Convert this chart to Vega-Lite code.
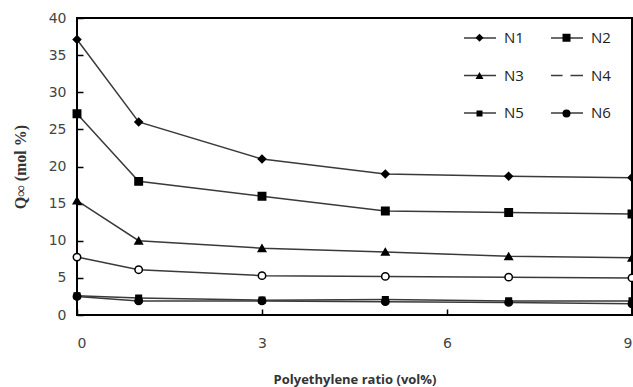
{
  "$schema": "https://vega.github.io/schema/vega-lite/v6.json",
  "width": 555,
  "height": 297,
  "autosize": {"type": "none"},
  "padding": {"left": 77, "top": 18, "right": 1, "bottom": 72},
  "config": {
    "view": {"stroke": "black", "strokeWidth": 2},
    "font": "DejaVu Sans"
  },
  "data": {
    "values": [
      {"series": "N1", "ratio": 0, "q": 37.1},
      {"series": "N1", "ratio": 1, "q": 26.0},
      {"series": "N1", "ratio": 3, "q": 21.0},
      {"series": "N1", "ratio": 5, "q": 19.0},
      {"series": "N1", "ratio": 7, "q": 18.7},
      {"series": "N1", "ratio": 9, "q": 18.5},
      {"series": "N2", "ratio": 0, "q": 27.1},
      {"series": "N2", "ratio": 1, "q": 18.0},
      {"series": "N2", "ratio": 3, "q": 16.0},
      {"series": "N2", "ratio": 5, "q": 14.0},
      {"series": "N2", "ratio": 7, "q": 13.8},
      {"series": "N2", "ratio": 9, "q": 13.6},
      {"series": "N3", "ratio": 0, "q": 15.4},
      {"series": "N3", "ratio": 1, "q": 10.0},
      {"series": "N3", "ratio": 3, "q": 9.0},
      {"series": "N3", "ratio": 5, "q": 8.5},
      {"series": "N3", "ratio": 7, "q": 7.9},
      {"series": "N3", "ratio": 9, "q": 7.7},
      {"series": "N4", "ratio": 0, "q": 7.8},
      {"series": "N4", "ratio": 1, "q": 6.1},
      {"series": "N4", "ratio": 3, "q": 5.3},
      {"series": "N4", "ratio": 5, "q": 5.2},
      {"series": "N4", "ratio": 7, "q": 5.1},
      {"series": "N4", "ratio": 9, "q": 5.0},
      {"series": "N5", "ratio": 0, "q": 2.6},
      {"series": "N5", "ratio": 1, "q": 2.3},
      {"series": "N5", "ratio": 3, "q": 2.0},
      {"series": "N5", "ratio": 5, "q": 2.1},
      {"series": "N5", "ratio": 7, "q": 1.9},
      {"series": "N5", "ratio": 9, "q": 1.9},
      {"series": "N6", "ratio": 0, "q": 2.5},
      {"series": "N6", "ratio": 1, "q": 1.9},
      {"series": "N6", "ratio": 3, "q": 1.9},
      {"series": "N6", "ratio": 5, "q": 1.8},
      {"series": "N6", "ratio": 7, "q": 1.7},
      {"series": "N6", "ratio": 9, "q": 1.5}
    ]
  },
  "encoding": {
    "x": {
      "field": "ratio", "type": "quantitative",
      "scale": {"domain": [0, 9], "nice": false},
      "axis": {
        "values": [0, 3, 6, 9], "domain": false, "grid": false,
        "tickSize": -6, "tickWidth": 1.5, "tickColor": "black",
        "labelPadding": 27, "labelFont": "DejaVu Sans", "labelFontSize": 14, "labelColor": "#444",
        "title": "Polyethylene ratio (vol%)", "titleFont": "Open Sans", "titleFontSize": 13,
        "titleFontWeight": "bold", "titleColor": "#333", "titlePadding": 23
      }
    },
    "y": {
      "field": "q", "type": "quantitative",
      "scale": {"domain": [0, 40], "nice": false},
      "axis": {
        "values": [0, 5, 10, 15, 20, 25, 30, 35, 40], "domain": false, "grid": false,
        "tickSize": -6, "tickWidth": 1.5, "tickColor": "black",
        "labelPadding": 17, "labelFont": "DejaVu Sans", "labelFontSize": 14, "labelColor": "#444",
        "title": "Q∞ (mol %)", "titleFont": "Liberation Serif", "titleFontSize": 16,
        "titleFontWeight": "bold", "titleColor": "#333", "titlePadding": 20
      }
    }
  },
  "layer": [
    {
      "mark": {"type": "line", "strokeWidth": 1.5},
      "encoding": {
        "stroke": {
          "field": "series", "type": "nominal",
          "scale": {"range": ["#3a3a3a", "#3a3a3a", "#3a3a3a", "#3a3a3a", "#3a3a3a", "#3a3a3a"]},
          "legend": {
            "orient": "none", "legendX": 386, "legendY": 3, "columns": 2, "direction": "horizontal",
            "title": null, "padding": 0, "symbolType": "stroke", "symbolSize": 1024,
            "symbolStrokeWidth": 1.5, "symbolOffset": 0,
            "labelOffset": 7, "rowPadding": 12.5, "columnPadding": 24,
            "labelFont": "Open Sans", "labelFontSize": 15, "labelColor": "#222"
          }
        }
      }
    },
    {
      "mark": {"type": "point", "filled": true, "stroke": "black", "strokeWidth": 1.5, "size": 55, "opacity": 1},
      "encoding": {
        "shape": {
          "field": "series", "type": "nominal",
          "scale": {"domain": ["N1", "N2", "N3", "N4", "N5", "N6"],
                    "range": ["diamond", "square", "triangle-up", "circle", "M-0.75,-0.75H0.75V0.75H-0.75Z", "circle"]},
          "legend": {
            "orient": "none", "legendX": 386, "legendY": 12, "columns": 2, "direction": "horizontal",
            "title": null, "padding": 0, "symbolSize": 64, "symbolOffset": 9,
            "symbolStrokeColor": "black", "symbolStrokeWidth": 1.5, "symbolOpacity": 1,
            "labelExpr": "''", "labelOffset": 0, "rowPadding": 22, "columnPadding": 63,
            "labelFont": "Open Sans", "labelFontSize": 15
          }
        },
        "fill": {
          "field": "series", "type": "nominal",
          "scale": {"domain": ["N1", "N2", "N3", "N4", "N5", "N6"],
                    "range": ["black", "black", "black", "white", "black", "black"]},
          "legend": null
        }
      }
    }
  ]
}
